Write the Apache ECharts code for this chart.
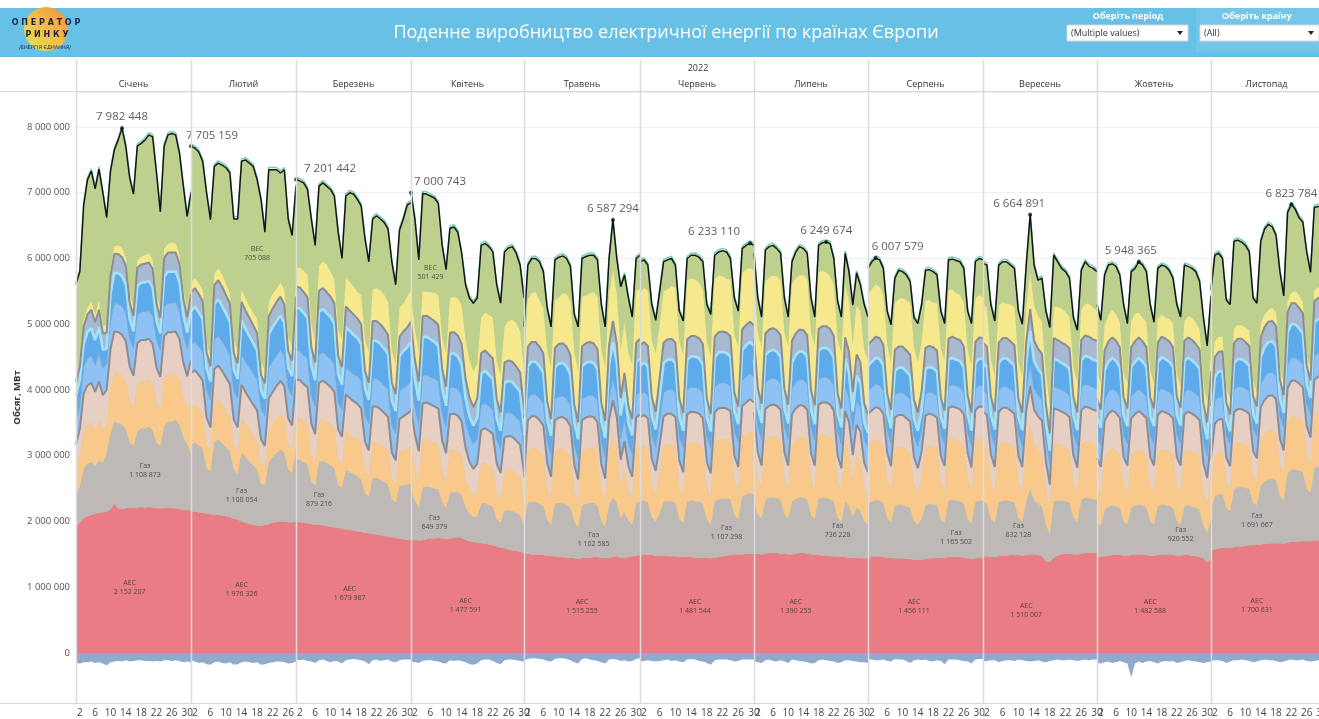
<!DOCTYPE html>
<html lang="uk">
<head>
<meta charset="UTF-8">
<title>Поденне виробництво електричної енергії по країнах Європи</title>
<script src="https://cdn.jsdelivr.net/npm/echarts/dist/echarts.min.js"></script>
<style>
    html, body {margin: 0; padding: 0; background: #fff;}
    #main {width: 1319px; height: 719px;}
</style>
</head>
<body>
<div id="main"></div>
<script>
// дані: тис. МВт·год за добу, 2022 рік, січень - листопад
var months = ['Січень', 'Лютий', 'Березень', 'Квітень', 'Травень', 'Червень', 'Липень', 'Серпень', 'Вересень', 'Жовтень', 'Листопад'];
var dayCounts = [31, 28, 31, 30, 31, 30, 31, 31, 30, 31, 30];
var yTicks = [0, 1000000, 2000000, 3000000, 4000000, 5000000, 6000000, 7000000, 8000000];

// загальне виробництво (чорна лінія)
var totalK = [
    [5610,5800,6810,7200,7330,7060,7360,7000,6620,7330,7650,7800,7982.448,7700,7230,6980,7710,7750,7800,7880,7850,7300,6710,7710,7880,7900,7880,7600,7100,6640,7000],
    [7705.159,7680,7620,7480,7000,6590,7400,7450,7420,7380,7300,6600,6600,7480,7500,7450,7400,7200,6900,6400,7350,7350,7350,7300,7350,6600,6350,7100],
    [7201.442,7180,7150,7050,6600,6200,7100,7150,7100,7050,6950,6400,6000,6950,7000,6980,6900,6800,6300,5950,6600,6650,6600,6550,6450,5950,5600,6430,6600,6810,6850],
    [7000.743,6600,5980,6990,6980,6950,6920,6840,6200,5830,6460,6480,6400,6080,5600,5400,5320,5400,6200,6230,6180,6100,5600,5320,6100,6160,6180,6080,5900,5400],
    [4960,5900,6000,6000,5950,5800,5250,4960,5980,6020,6040,6000,5880,5150,4960,6000,6030,6050,6050,5980,5300,4960,6000,6587.294,6000,5570,5750,5400,5110,6000,6050],
    [5950,5980,5900,5300,5060,5500,5950,5980,6000,5900,5200,5050,6000,6050,6050,6020,5950,5300,5150,6050,6100,6120,6100,6000,5400,5200,6150,6200,6233.110,6200],
    [6080,5400,5110,6130,6180,6200,6150,6080,5400,5110,5950,6100,6180,6150,6080,5400,5110,6200,6240,6249.674,6230,6000,5350,5110,6080,5800,5290,5780,5600,5300,5110],
    [5850,5950,6007.579,5980,5850,5200,4990,5700,5820,5800,5750,5650,5100,5010,5300,5820,5830,5800,5750,5200,5010,5980,5990,5970,5950,5850,5200,5010,5950,6000,5980],
    [5930,5900,5300,5050,5900,5950,5950,5900,5850,5200,5000,5900,6664.891,5900,5670,5700,5200,4950,6050,5950,5850,5800,5700,5100,4910,5820,5950,5880,5850,5800],
    [5300,5060,5750,5900,5920,5880,5750,5300,5010,5800,5850,5948.365,5900,5800,5300,5030,5850,5900,5880,5820,5700,5300,5110,5900,5880,5850,5800,5650,5100,4670,5430],
    [5520,6050,6080,6000,5370,5300,6260,6280,6250,6200,6100,5400,5320,6260,6450,6520,6480,6350,5800,5430,6700,6823.784,6750,6620,6550,6100,5790,6780,6790,6800]
];
// сальдо / експорт (від'ємна частина)
var exportK = [
    [-150,-160,-140,-140,-130,-150,-140,-160,-190,-140,-130,-120,-130,-110,-130,-120,-110,-110,-120,-120,-130,-120,-130,-110,-110,-120,-110,-120,-140,-130,-140],
    [-110,-130,-150,-140,-170,-180,-140,-130,-150,-160,-140,-180,-170,-140,-130,-140,-150,-140,-180,-170,-150,-140,-130,-130,-140,-160,-150,-130],
    [-100,-110,-100,-120,-130,-150,-110,-100,-120,-140,-120,-130,-160,-110,-100,-90,-100,-110,-130,-170,-110,-100,-120,-110,-100,-130,-140,-110,-100,-100,-100],
    [-130,-140,-150,-120,-110,-110,-120,-130,-150,-160,-110,-120,-110,-120,-140,-170,-180,-160,-110,-100,-100,-120,-150,-170,-110,-100,-100,-110,-120,-130],
    [-110,-90,-80,-80,-90,-100,-120,-130,-90,-80,-80,-90,-110,-140,-160,-90,-80,-100,-110,-120,-140,-160,-100,-90,-100,-120,-110,-130,-120,-90,-80],
    [-130,-120,-110,-120,-130,-120,-110,-100,-120,-110,-130,-140,-100,-90,-100,-120,-130,-150,-180,-110,-100,-100,-100,-110,-130,-120,-100,-100,-100,-100],
    [-120,-140,-150,-110,-100,-120,-130,-110,-130,-150,-100,-110,-120,-130,-140,-160,-150,-110,-100,-110,-120,-130,-150,-140,-110,-110,-120,-130,-140,-140,-150],
    [-90,-100,-110,-110,-100,-120,-130,-90,-100,-100,-120,-150,-110,-100,-110,-100,-120,-130,-110,-120,-170,-100,-100,-100,-110,-120,-130,-160,-100,-90,-90],
    [-130,-120,-110,-110,-140,-120,-110,-110,-120,-100,-110,-120,-130,-120,-110,-130,-140,-120,-110,-100,-110,-110,-100,-110,-120,-110,-100,-110,-100,-100],
    [-150,-160,-140,-130,-150,-140,-120,-140,-160,-370,-160,-130,-150,-130,-120,-140,-160,-130,-120,-130,-120,-150,-140,-120,-110,-120,-130,-140,-150,-140,-130],
    [-120,-110,-110,-120,-150,-130,-110,-110,-100,-110,-120,-140,-130,-110,-100,-110,-110,-120,-140,-130,-110,-100,-110,-110,-100,-120,-130,-120,-110,-110]
];
// АЕС
var nuclearK = [
    [1930,1980,2050,2080,2100,2120,2130,2140,2150,2180,2270,2200,2190,2200,2210,2200,2210,2220,2210,2220,2210,2200,2200,2200,2210,2200,2200,2190,2180,2180,2170],
    [2160,2150,2140,2130,2120,2110,2100,2100,2090,2080,2070,2040,2030,2000,1980,1960,1950,1940,1930,1950,1960,1980,1990,2000,2000,1990,1990,2000],
    [2000,1990,1980,1970,1960,1950,1950,1940,1930,1920,1910,1900,1890,1880,1870,1860,1850,1840,1830,1820,1810,1800,1790,1780,1770,1760,1750,1740,1730,1720,1720],
    [1720,1720,1710,1720,1730,1740,1740,1750,1740,1730,1740,1750,1760,1750,1720,1700,1690,1680,1670,1660,1650,1640,1620,1600,1590,1570,1560,1550,1540,1520],
    [1520,1510,1500,1500,1490,1490,1480,1470,1470,1460,1460,1450,1450,1440,1430,1440,1450,1450,1460,1460,1450,1440,1450,1460,1470,1450,1440,1460,1470,1480,1490],
    [1500,1500,1490,1490,1480,1480,1480,1470,1470,1470,1460,1460,1460,1460,1450,1450,1450,1450,1440,1450,1460,1470,1480,1490,1500,1500,1500,1510,1510,1510],
    [1510,1510,1500,1510,1520,1520,1520,1510,1510,1500,1500,1510,1520,1520,1510,1500,1500,1490,1480,1480,1470,1470,1460,1460,1460,1450,1450,1450,1440,1440,1440],
    [1460,1460,1470,1470,1460,1450,1450,1440,1440,1440,1430,1430,1420,1420,1420,1430,1440,1440,1450,1450,1450,1460,1460,1460,1460,1450,1440,1430,1440,1450,1460],
    [1470,1470,1460,1460,1470,1480,1480,1490,1490,1490,1480,1490,1500,1500,1490,1470,1400,1380,1450,1480,1500,1510,1510,1500,1500,1510,1520,1520,1520,1520],
    [1460,1460,1470,1480,1490,1490,1490,1480,1480,1490,1500,1500,1500,1490,1480,1480,1490,1500,1500,1500,1490,1480,1480,1490,1490,1480,1470,1460,1440,1380,1420],
    [1560,1580,1590,1600,1600,1600,1610,1620,1620,1630,1640,1640,1650,1650,1660,1660,1670,1670,1670,1660,1680,1690,1690,1700,1700,1700,1700,1710,1710,1710]
];
// Газ
var gasK = [
    [450,550,750,800,800,720,800,750,900,1150,1250,1300,1280,1200,1000,950,1150,1200,1200,1220,1180,1000,950,1250,1300,1320,1350,1280,1100,1000,850],
    [1000,1050,1020,980,700,650,1100,1150,1100,1050,1000,750,700,1050,1000,950,900,850,650,600,950,1000,1050,1100,1050,800,750,1100],
    [950,950,920,900,650,600,950,980,960,940,900,650,620,900,880,860,840,800,600,560,850,860,850,820,800,580,540,800,820,840,860],
    [750,600,500,800,800,780,760,740,550,480,700,700,680,650,500,420,380,400,600,620,600,580,420,380,580,600,600,580,560,420],
    [450,780,800,800,780,750,550,480,800,820,820,800,760,560,480,800,820,830,820,780,560,480,800,900,820,600,700,560,480,800,820],
    [800,820,800,580,520,650,820,840,840,820,580,520,840,860,860,850,820,580,520,860,880,880,870,850,600,540,880,900,920,900],
    [800,600,540,820,840,850,840,820,600,540,800,830,850,840,820,600,540,860,880,880,870,840,600,540,840,780,620,760,720,560,520],
    [820,840,860,850,820,600,540,800,820,820,800,780,580,540,620,820,830,820,800,580,540,860,870,860,850,820,600,540,850,870,860],
    [820,800,580,520,820,840,840,820,800,560,520,820,1000,820,780,760,560,420,860,840,820,800,780,560,500,820,840,830,820,810],
    [520,480,700,740,760,740,720,520,480,720,740,760,740,720,520,480,740,760,750,740,720,520,480,740,760,750,740,720,500,440,620],
    [620,800,820,820,600,560,880,900,900,880,860,640,600,900,950,980,980,950,720,660,1050,1100,1100,1080,1050,800,740,1100,1120,1120]
];
// вугілля
var coalK = [
    [450,480,570,590,610,550,600,500,450,690,750,760,750,730,630,570,730,720,730,720,700,610,550,730,730,720,700,680,600,530,800],
    [580,580,560,530,360,300,600,600,580,560,530,360,320,530,500,480,460,440,300,260,480,500,520,540,520,380,340,560],
    [630,630,620,610,410,350,630,640,630,620,600,400,350,590,580,570,560,550,350,310,550,550,540,530,510,310,270,510,530,550,570],
    [700,520,420,720,720,700,700,680,480,400,650,650,640,600,450,380,340,380,600,620,610,600,420,360,600,620,620,600,580,400],
    [350,780,820,820,800,760,480,380,800,820,830,820,780,480,380,820,830,840,830,800,480,380,820,960,820,500,650,450,380,820,840],
    [820,840,820,500,420,620,840,860,860,840,500,420,860,880,880,870,840,500,420,880,900,900,890,870,520,440,900,920,940,920],
    [880,560,460,900,920,930,920,900,560,460,860,900,920,920,900,560,460,940,960,960,950,900,560,460,900,820,560,800,760,520,440],
    [880,900,920,910,880,600,480,860,880,880,860,840,580,480,620,880,890,880,860,580,480,920,930,920,910,880,600,480,910,930,920],
    [860,840,560,460,860,880,880,860,840,540,450,860,1000,860,820,800,540,400,880,860,840,820,800,540,440,840,860,850,840,830],
    [540,480,800,840,860,840,800,540,480,800,820,840,820,800,540,480,820,840,830,820,800,540,480,820,840,830,820,800,520,440,700],
    [390,630,650,650,390,330,670,690,690,670,650,410,350,690,730,750,750,730,470,390,770,810,810,790,770,530,450,810,830,830]
];
// буре вугілля
var ligniteK = [
    [340,400,580,600,600,580,600,530,500,600,620,620,620,610,520,500,620,620,620,620,610,530,500,640,640,640,640,620,540,500,640],
    [520,520,510,500,400,370,520,520,520,500,490,400,380,500,490,480,470,460,370,340,480,490,500,500,490,400,380,500],
    [580,580,570,560,470,430,580,580,580,570,560,450,430,560,550,540,540,530,430,390,540,540,530,520,510,400,370,510,520,530,540],
    [560,480,440,560,560,560,550,550,460,430,540,540,530,520,450,410,390,420,520,520,520,510,420,400,510,510,510,500,490,410],
    [350,470,480,480,470,460,380,350,470,480,480,480,460,380,350,480,480,480,480,470,380,350,480,520,480,390,430,370,350,480,480],
    [460,460,460,380,350,420,460,470,470,460,380,350,470,470,470,470,460,380,350,470,480,480,480,470,380,350,480,480,490,480],
    [470,380,350,480,480,480,480,470,380,350,470,480,480,480,470,380,350,490,490,490,490,480,380,350,480,460,380,460,450,370,350],
    [480,490,490,490,480,400,370,480,480,480,480,470,390,370,410,480,480,480,470,390,370,490,490,490,490,480,400,370,490,500,500],
    [520,510,420,390,520,530,530,520,510,410,380,520,560,520,510,500,410,360,530,520,510,510,500,410,380,520,530,530,520,520],
    [440,410,560,580,580,580,570,440,410,560,570,580,570,560,440,410,570,580,580,570,560,440,410,580,580,580,570,560,430,400,520],
    [380,480,490,490,380,350,500,500,500,500,490,380,360,500,510,520,520,510,400,370,530,540,540,530,520,420,390,540,540,540]
];
// ГЕС руслові
var hydroRorK = [
    [350,360,400,410,410,410,420,410,400,420,430,430,430,430,420,410,430,430,430,430,430,420,410,440,440,440,440,430,420,410,420],
    [420,430,430,440,430,420,440,450,450,450,450,440,440,460,460,470,470,470,460,460,470,470,470,470,460,450,450,460],
    [440,440,440,430,430,420,430,430,420,420,420,410,410,410,410,410,420,420,410,410,420,420,420,420,420,410,410,420,430,430,440],
    [420,420,410,420,420,420,420,410,410,400,400,400,400,390,390,390,380,380,380,380,370,370,370,360,360,360,350,350,350,350],
    [340,340,330,330,330,330,330,330,320,320,320,320,320,320,320,320,320,320,320,330,330,330,330,330,330,330,330,340,340,340,340],
    [350,350,350,360,360,360,360,360,370,370,370,370,370,370,380,380,380,380,380,380,380,380,380,380,380,380,380,390,390,390],
    [400,400,400,400,400,400,400,400,390,390,390,390,390,390,390,380,380,380,380,380,380,380,370,370,370,370,370,370,370,360,360],
    [350,350,350,350,350,340,340,340,340,340,340,340,330,330,330,330,330,330,330,330,330,330,330,330,330,330,320,320,320,320,320],
    [320,320,320,320,320,320,320,320,320,320,320,320,320,320,320,320,320,320,330,330,330,330,330,330,330,340,340,340,340,340],
    [330,330,330,330,330,330,330,330,330,330,330,330,330,330,330,330,340,340,340,340,340,340,340,340,340,340,340,340,340,340,340],
    [330,340,340,340,340,340,340,340,340,340,340,340,340,340,350,350,350,350,350,350,350,350,350,350,350,350,350,360,360,360]
];
// ГЕС з водосховищами
var hydroResK = [
    [400,380,350,400,420,380,400,280,230,420,460,470,460,440,300,260,440,440,450,450,430,300,250,460,480,480,470,440,300,250,320],
    [520,540,520,500,320,280,550,560,540,520,500,320,300,520,500,480,460,440,280,260,500,520,520,520,500,320,300,520],
    [650,650,640,630,450,400,650,660,650,640,620,430,380,620,610,600,580,560,400,360,580,580,570,560,540,380,340,540,560,580,600],
    [560,420,360,580,580,570,560,540,380,320,520,520,500,480,360,300,280,320,480,490,480,470,320,280,470,480,480,470,450,320],
    [300,480,500,500,490,470,330,290,480,500,500,490,460,330,290,500,510,510,500,480,330,290,500,560,490,340,420,320,290,500,510],
    [440,450,440,300,270,370,450,460,460,450,300,260,460,470,470,460,440,300,260,460,470,470,460,450,300,270,470,480,480,470],
    [400,280,250,420,430,430,420,400,280,250,400,420,430,430,410,280,250,440,450,450,440,420,280,250,420,380,290,380,360,260,240],
    [380,390,400,400,380,270,240,370,380,380,370,360,260,240,290,380,380,380,370,260,240,400,410,400,400,380,270,240,400,410,410],
    [420,410,280,250,420,430,430,420,410,270,240,420,520,420,400,390,270,200,430,420,410,410,400,270,240,420,430,430,420,420],
    [300,270,440,460,470,460,440,300,270,450,470,480,470,450,300,270,460,480,470,460,440,300,270,470,480,470,460,440,290,250,400],
    [210,370,390,390,230,190,410,420,420,410,390,230,190,420,450,470,470,450,270,220,490,510,510,490,470,290,250,510,520,520]
];
// інші ВДЕ та ГАЕС
var hydroOtherK = [
    [200,210,260,270,280,270,270,250,240,280,290,290,290,280,250,240,280,280,280,280,280,250,240,290,290,290,290,280,250,240,260],
    [280,280,280,270,240,230,290,290,290,280,280,250,240,280,280,280,270,270,240,230,280,280,290,290,280,250,240,280],
    [320,320,320,310,280,270,320,320,320,310,310,280,270,310,310,310,300,300,270,260,300,300,300,300,290,270,260,290,300,300,310],
    [320,300,290,320,320,320,320,320,300,290,320,320,320,310,300,290,280,290,310,310,310,310,290,280,310,310,310,310,300,290],
    [260,300,300,300,300,300,270,260,300,300,300,300,300,270,260,300,300,300,300,300,270,260,300,320,300,270,290,260,250,300,300],
    [310,310,310,280,270,290,310,310,310,310,280,270,310,310,310,310,310,280,270,310,310,310,310,310,280,270,310,310,310,310],
    [330,300,290,330,330,330,330,330,300,290,330,330,330,330,330,300,290,330,330,330,330,330,300,290,330,320,300,320,320,290,280],
    [320,320,320,320,320,290,280,320,320,320,320,320,290,280,300,320,320,320,320,290,280,320,320,320,320,320,290,280,320,320,320],
    [310,310,280,270,310,310,310,310,310,280,270,310,330,310,310,310,280,260,310,310,310,310,310,280,270,310,310,310,310,310],
    [280,270,300,310,310,310,300,280,270,300,310,310,310,300,280,270,300,310,310,310,300,280,270,310,310,310,300,300,280,260,290],
    [270,300,300,300,270,260,300,310,310,300,300,270,260,300,310,310,310,310,280,270,310,320,320,310,310,280,270,320,320,320]
];
// СЕС
var solarK = [
    [90,100,110,100,120,110,130,120,110,100,110,130,140,120,130,120,110,120,130,140,130,120,130,140,130,150,140,130,140,130,120],
    [140,150,160,170,160,150,170,180,190,170,160,180,200,190,180,170,200,210,190,200,210,220,200,210,230,220,210,220],
    [280,300,320,340,360,330,380,400,420,380,360,400,420,430,440,420,400,450,470,460,480,500,510,520,500,480,460,440,420,460,480],
    [420,460,440,380,360,400,430,450,480,500,520,540,560,580,600,560,540,520,540,580,600,620,580,560,540,600,640,660,620,600],
    [760,720,740,760,700,680,760,780,720,700,760,800,820,800,780,760,720,740,780,800,820,800,760,780,740,720,760,800,820,780,760],
    [800,820,840,860,880,800,780,760,800,840,860,880,900,880,860,840,820,860,880,880,860,840,820,860,880,900,860,840,820,840],
    [820,840,860,800,780,800,820,840,860,880,860,840,820,840,860,880,900,860,840,820,800,780,820,840,800,760,720,740,780,800,820],
    [760,780,800,780,760,740,720,700,720,740,760,780,800,760,740,720,700,680,720,740,760,740,720,700,680,660,680,700,660,640,620],
    [600,580,560,540,560,540,520,560,580,560,540,520,560,540,500,480,460,420,480,500,520,500,480,460,440,460,480,500,480,460],
    [420,400,380,400,420,400,380,360,380,400,420,380,360,380,400,380,360,340,320,340,360,340,320,300,320,340,320,300,280,300,280],
    [220,240,230,220,240,230,220,210,200,220,240,230,210,200,190,180,200,210,190,180,170,160,180,190,170,160,180,170,160,150]
];
// підписи шарів: місяць, назва, значення
var noteMonth = [0, 0, 1, 1, 1, 2, 2, 3, 3, 3, 4, 4, 5, 5, 6, 6, 7, 7, 8, 8, 9, 9, 10, 10];
var noteName = ['Газ', 'АЕС', 'ВЕС', 'Газ', 'АЕС', 'Газ', 'АЕС', 'ВЕС', 'Газ', 'АЕС', 'Газ', 'АЕС', 'Газ', 'АЕС', 'Газ', 'АЕС', 'Газ', 'АЕС', 'Газ', 'АЕС', 'Газ', 'АЕС', 'Газ', 'АЕС'];
var noteValue = [1108873, 2152207, 705088, 1100054, 1976326, 879216, 1673987, 501429, 649379, 1477591, 1102585, 1515255, 1107298, 1481544, 736228, 1390255, 1165502, 1456111, 832128, 1510007, 920552, 1482588, 1691667, 1700631];

// розмітка (не дані): положення панелей і підписів
var paneLeft = [76, 191, 296, 411, 524, 640, 754, 868, 983, 1097, 1211];
var paneWidth = [115, 105, 115, 113, 116, 114, 114, 115, 114, 114, 111];
var noteDay = [18, 14, 17, 13, 13, 6, 14, 5, 6, 14, 18, 15, 22, 14, 22, 11, 23, 12, 9, 11, 22, 14, 12, 12];
var noteLevel = [2780000, 990000, 6080000, 2400000, 960000, 2330000, 900000, 5790000, 1980000, 730000, 1720000, 700000, 1830000, 700000, 1870000, 700000, 1760000, 700000, 1870000, 650000, 1800000, 700000, 2020000, 730000];
var peakDx = [0, 21, 34, 29, 0, -36, 0, 22, -11, -8, 0];

var FONT = '"Open Sans", "Noto Sans", sans-serif';

function fmt(n) {
    return String(Math.round(n)).replace(/\B(?=(\d{3})+(?!\d))/g, ' ');
}
function kilo(arr) {
    return arr.map(function (v) { return Math.round(v * 1000); });
}

var layers = [
    {name: 'Сальдо', data: exportK, color: '#8eabcd'},
    {name: 'АЕС', data: nuclearK, color: '#e97c84'},
    {name: 'Газ', data: gasK, color: '#bdb9b6'},
    {name: 'Вугілля', data: coalK, color: '#f9c98b'},
    {name: 'Буре вугілля', data: ligniteK, color: '#e8cfc3', line: '#8d8c92', lw: 2},
    {name: 'ГЕС руслові', data: hydroRorK, color: '#8fc2f4', line: '#7ea6d0', lw: 0.8},
    {name: 'ГЕС', data: hydroResK, color: '#5eabeb', line: '#a6e2f3', lw: 2.6},
    {name: 'Інші', data: hydroOtherK, color: '#a7bad2', line: '#8c8d93', lw: 2},
    {name: 'СЕС', data: solarK, color: '#f6e98d'}
];

var grids = [], xAxes = [], yAxes = [], series = [];

for (var m = 0; m < months.length; m++) {
    grids.push({left: paneLeft[m], width: paneWidth[m], top: 92, height: 611, outerBoundsMode: 'none'});

    var days = [];
    for (var d = 1; d <= dayCounts[m]; d++) days.push(String(d));

    xAxes.push({
        type: 'category', gridIndex: m, data: days, boundaryGap: false,
        axisTick: {show: false},
        axisLine: {lineStyle: {color: '#d4d4d4'}},
        axisLabel: {
            interval: function (i) { return (i + 1) % 4 === 2; },
            fontSize: 10, color: '#444', margin: 5, fontFamily: FONT
        }
    });

    yAxes.push({
        type: 'value', gridIndex: m, min: -760000, max: 8532000, splitNumber: 9,
        axisLine: {show: false}, axisTick: {show: false},
        axisLabel: {
            show: m === 0, fontSize: 9.5, color: '#555', fontFamily: FONT, margin: 6,
            formatter: function (v) { return yTicks.indexOf(v) >= 0 ? fmt(v) : ''; }
        },
        splitLine: {show: true, lineStyle: {color: '#f0f0f0'}},
        name: m === 0 ? 'Обсяг, МВт' : '',
        nameLocation: 'middle', nameGap: 54,
        nameTextStyle: {fontSize: 9.5, fontWeight: 'bold', color: '#333', fontFamily: FONT}
    });

    var tot = kilo(totalK[m]);

    // ВЕС: зелена площа до загального обсягу
    series.push({
        type: 'line', xAxisIndex: m, yAxisIndex: m, data: tot, z: 1,
        symbol: 'none', silent: true, lineStyle: {width: 0},
        areaStyle: {color: '#bdd08e', opacity: 1}
    });

    layers.forEach(function (L) {
        series.push({
            name: L.name, type: 'line', stack: 'mix' + m, xAxisIndex: m, yAxisIndex: m,
            data: kilo(L.data[m]), z: 2, symbol: 'none', silent: true,
            lineStyle: L.line ? {color: L.line, width: L.lw} : {width: 0},
            areaStyle: {color: L.color, opacity: 1}
        });
    });

    // загальна лінія
    series.push({
        type: 'line', xAxisIndex: m, yAxisIndex: m, data: tot, z: 4,
        symbol: 'none', silent: true,
        lineStyle: {color: '#151515', width: 1.5, shadowColor: '#78d0b2', shadowBlur: 0, shadowOffsetY: -2.2}
    });

    // максимум місяця
    var maxI = 0;
    for (var i = 1; i < tot.length; i++) if (tot[i] > tot[maxI]) maxI = i;
    series.push({
        type: 'scatter', xAxisIndex: m, yAxisIndex: m, z: 6, silent: true,
        symbolSize: 4, itemStyle: {color: '#111'},
        data: [[maxI, tot[maxI]]],
        label: {
            show: true, position: 'top', distance: 3, offset: [peakDx[m], 0],
            fontSize: 11.5, color: '#333', fontFamily: FONT,
            formatter: function (p) { return fmt(p.value[1]); }
        }
    });

    // підписи шарів
    var notes = [];
    for (var n = 0; n < noteMonth.length; n++) {
        if (noteMonth[n] === m) notes.push({value: [noteDay[n], noteLevel[n]], name: noteName[n] + '\n' + fmt(noteValue[n])});
    }
    series.push({
        type: 'scatter', xAxisIndex: m, yAxisIndex: m, z: 6, silent: true,
        symbolSize: 0, data: notes,
        label: {
            show: true, position: 'inside', fontSize: 7, lineHeight: 9, color: '#333', fontFamily: FONT,
            formatter: function (p) { return p.name; }
        }
    });
}

// шапка, заголовки та розділювачі
var graphics = [
    {type: 'rect', shape: {x: 0, y: 8, width: 1319, height: 49}, style: {fill: '#67c1e7'}, z: 50, silent: true},
    {type: 'rect', shape: {x: 1196, y: 8, width: 123, height: 44}, style: {fill: '#73c6ea'}, z: 51, silent: true},
    {type: 'circle', shape: {cx: 46, cy: 29, r: 22}, z: 52, silent: true,
        style: {fill: new echarts.graphic.LinearGradient(0, 1, 1, 0, [{offset: 0, color: '#e2e655'}, {offset: 0.55, color: '#f2bb48'}, {offset: 1, color: '#f08a45'}])}},
    {type: 'text', z: 53, silent: true, style: {text: 'О П Е Р А Т О Р', x: 46, y: 23, textAlign: 'center', textVerticalAlign: 'middle', fill: '#1e2247', font: 'bold 8px "DejaVu Sans", sans-serif'}},
    {type: 'text', z: 53, silent: true, style: {text: 'Р И Н К У', x: 47, y: 35, textAlign: 'center', textVerticalAlign: 'middle', fill: '#1e2247', font: 'bold 8px "DejaVu Sans", sans-serif'}},
    {type: 'text', z: 53, silent: true, style: {text: '/ЕНЕРГІЯ ЄДНАННЯ/', x: 45, y: 48, textAlign: 'center', textVerticalAlign: 'middle', fill: '#2a2a40', font: '5px "DejaVu Sans", sans-serif'}},
    {type: 'text', z: 53, silent: true, style: {text: 'Поденне виробництво електричної енергії по країнах Європи', x: 666, y: 33, textAlign: 'center', textVerticalAlign: 'middle', fill: '#ffffff', font: '18px ' + FONT}},
    {type: 'text', z: 53, silent: true, style: {text: 'Оберіть період', x: 1128, y: 16, textAlign: 'center', textVerticalAlign: 'middle', fill: '#ffffff', font: 'bold 9px ' + FONT}},
    {type: 'text', z: 53, silent: true, style: {text: 'Оберіть країну', x: 1257, y: 16, textAlign: 'center', textVerticalAlign: 'middle', fill: '#ffffff', font: 'bold 9px ' + FONT}},
    {type: 'rect', z: 53, silent: true, shape: {x: 1067, y: 25, width: 121, height: 16}, style: {fill: '#ffffff', stroke: '#d6d6d6', lineWidth: 1}},
    {type: 'rect', z: 53, silent: true, shape: {x: 1200, y: 25, width: 119, height: 16}, style: {fill: '#ffffff', stroke: '#d6d6d6', lineWidth: 1}},
    {type: 'text', z: 54, silent: true, style: {text: '(Multiple values)', x: 1071, y: 33, textVerticalAlign: 'middle', fill: '#333', font: '9px ' + FONT}},
    {type: 'text', z: 54, silent: true, style: {text: '(All)', x: 1204, y: 33, textVerticalAlign: 'middle', fill: '#333', font: '9px ' + FONT}},
    {type: 'polygon', z: 54, silent: true, shape: {points: [[1177, 31], [1183, 31], [1180, 35]]}, style: {fill: '#222'}},
    {type: 'polygon', z: 54, silent: true, shape: {points: [[1308, 31], [1314, 31], [1311, 35]]}, style: {fill: '#222'}},
    {type: 'text', z: 53, silent: true, style: {text: '2022', x: 698, y: 68, textAlign: 'center', textVerticalAlign: 'middle', fill: '#333', font: '9px ' + FONT}},
    {type: 'line', z: 60, silent: true, shape: {x1: 0, y1: 91.5, x2: 1319, y2: 91.5}, style: {stroke: '#d8d8d8', lineWidth: 1}},
    {type: 'line', z: 60, silent: true, shape: {x1: 0, y1: 703.5, x2: 1319, y2: 703.5}, style: {stroke: '#d8d8d8', lineWidth: 1}}
];
for (var g = 0; g < months.length; g++) {
    graphics.push({type: 'text', z: 53, silent: true, style: {text: months[g], x: paneLeft[g] + paneWidth[g] / 2, y: 84, textAlign: 'center', textVerticalAlign: 'middle', fill: '#333', font: '9px ' + FONT}});
    graphics.push({type: 'line', z: 60, silent: true, shape: {x1: paneLeft[g] + 0.5, y1: 60, x2: paneLeft[g] + 0.5, y2: 703}, style: {stroke: '#dcdcdc', lineWidth: 1.5}});
}

var myChart = echarts.init(document.getElementById('main'));
myChart.setOption({
    animation: false,
    backgroundColor: '#ffffff',
    grid: grids,
    xAxis: xAxes,
    yAxis: yAxes,
    series: series,
    graphic: graphics
});
</script>
</body>
</html>
